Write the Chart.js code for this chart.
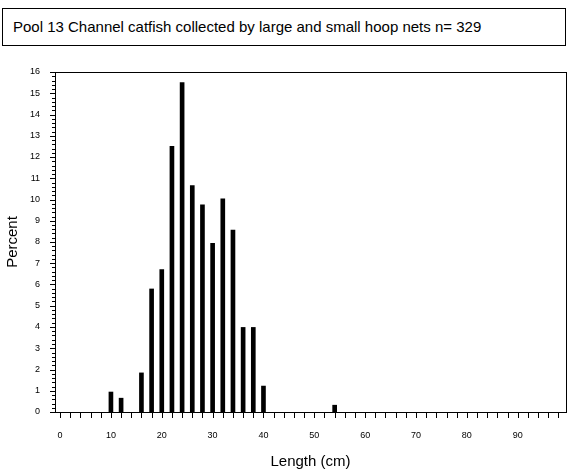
<!DOCTYPE html>
<html><head><meta charset="utf-8">
<script src="https://cdn.jsdelivr.net/npm/chart.js@4"></script>
<style>
html,body{margin:0;padding:0;background:#fff;}
#wrap{position:relative;width:570px;height:475px;}
#title{position:absolute;left:2px;top:8px;width:564px;height:38px;border:1px solid #000;box-sizing:border-box;font-family:"Liberation Sans",Arial,sans-serif;font-size:15px;line-height:36px;padding-left:10px;}
canvas{position:absolute;left:0;top:0;}
</style></head><body>
<div id="wrap"><div id="title">Pool 13 Channel catfish collected by large and small hoop nets n= 329</div>
<canvas id="c" width="570" height="475"></canvas></div>
<script>
const lengths = [10,12,16,18,20,22,24,26,28,30,32,34,36,38,40,54];
const percents = [0.94,0.65,1.84,5.79,6.70,12.5,15.5,10.65,9.75,7.94,10.03,8.56,3.98,3.98,1.22,0.32];
const xLabel = "Length (cm)";
const yLabel = "Percent";
const F = '"Liberation Sans",Arial,sans-serif';
const frame = {id:'frame',afterDraw(ch){const a=ch.chartArea,c=ch.ctx;c.save();c.strokeStyle='#000';c.lineWidth=1;
c.strokeRect(Math.round(a.left)+0.5,Math.round(a.top)+0.5,Math.round(a.right-a.left),Math.round(a.bottom-a.top));
const y=ch.scales.y;for(let v=0;v<=16.001;v+=0.2){const p=Math.round(y.getPixelForValue(v))+0.5;const major=Math.abs(v-Math.round(v))<0.01;
c.beginPath();c.moveTo(a.left,p);c.lineTo(a.left-(major?5:3),p);c.stroke();}
const x=ch.scales.x;for(let v=0;v<=98;v+=2){const p=Math.round(x.getPixelForValue(v))+0.5;c.beginPath();c.moveTo(p,a.bottom);c.lineTo(p,a.bottom+6);c.stroke();}
c.restore();}};
new Chart(document.getElementById('c'),{type:'bar',
data:{datasets:[{data:lengths.map((l,i)=>({x:l,y:percents[i]})),backgroundColor:'#000',barThickness:4}]},
options:{responsive:false,animation:false,events:[],
layout:{padding:{top:72,right:4,left:0,bottom:0}},
plugins:{legend:{display:false},tooltip:{enabled:false}},
scales:{
x:{type:'linear',min:-1,max:99.5,offset:false,border:{display:false},grid:{display:false},
 ticks:{stepSize:10,autoSkip:false,color:'#000',font:{family:F,size:9},padding:10,callback:v=>(v%10===0&&v<=90&&v>=0)?String(v):''},
 afterBuildTicks(s){s.ticks=[];for(let v=0;v<=90;v+=10)s.ticks.push({value:v});},
 afterFit(s){s.height=63;},
 title:{display:true,text:xLabel,color:'#000',font:{family:F,size:15},padding:{top:12}}},
y:{min:0,max:16,border:{display:false},grid:{display:false},
 ticks:{stepSize:1,color:'#000',font:{family:F,size:9},padding:7},
 afterFit(s){s.width=55;},
 title:{display:true,text:yLabel,color:'#000',font:{family:F,size:15},padding:{bottom:2}}}
}},plugins:[frame]});
</script></body></html>
